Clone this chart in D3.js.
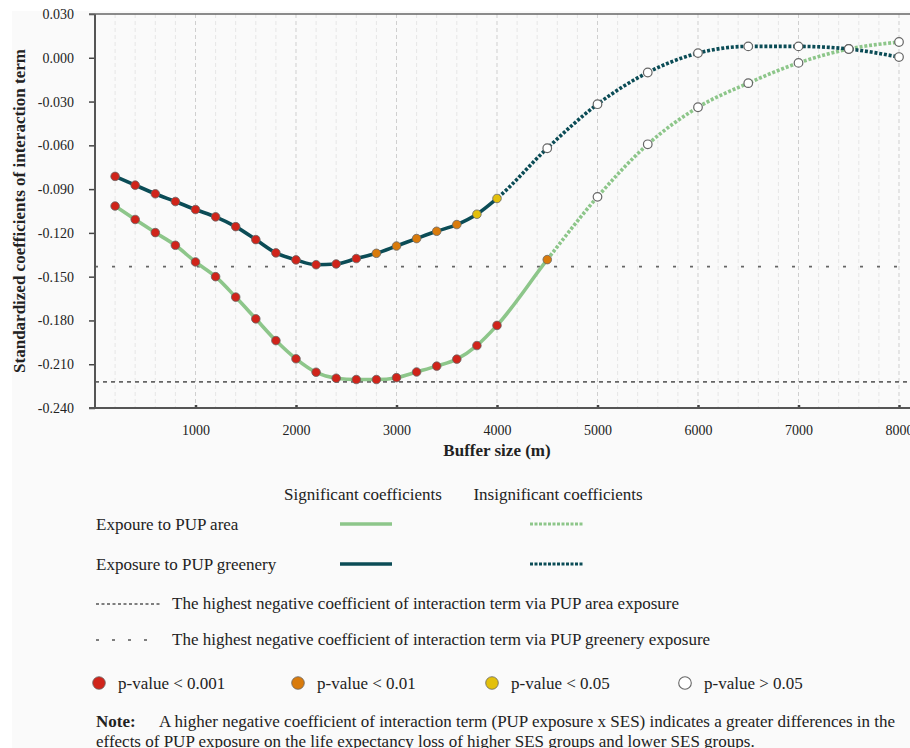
<!DOCTYPE html>
<html><head><meta charset="utf-8">
<script src="https://cdn.jsdelivr.net/npm/d3@7"></script>
<style>
body{margin:0;background:#fff}
svg{display:block}
text{font-family:"Liberation Serif","Times New Roman",serif;fill:#222}
</style>
</head><body>
<svg id="c" width="910" height="748"></svg>
<script>
// ---- data ----
const bufferSizes = [200,400,600,800,1000,1200,1400,1600,1800,2000,2200,2400,2600,2800,3000,3200,3400,3600,3800,4000,4500,5000,5500,6000,6500,7000,7500,8000];
const areaCoef = [-0.1016,-0.1108,-0.1198,-0.1285,-0.1399,-0.1500,-0.1640,-0.1789,-0.1938,-0.2063,-0.2155,-0.2196,-0.2205,-0.2205,-0.2192,-0.2153,-0.2113,-0.2065,-0.1972,-0.1834,-0.1383,-0.0953,-0.0593,-0.0339,-0.0174,-0.0035,0.0060,0.0108];
const greenCoef = [-0.0813,-0.0873,-0.0932,-0.0985,-0.1040,-0.1090,-0.1157,-0.1246,-0.1337,-0.1385,-0.1418,-0.1413,-0.1376,-0.1340,-0.1290,-0.1239,-0.1189,-0.1143,-0.1072,-0.0964,-0.0620,-0.0318,-0.0101,0.0032,0.0078,0.0078,0.0060,0.0005];
const areaP = ["p001","p001","p001","p001","p001","p001","p001","p001","p001","p001","p001","p001","p001","p001","p001","p001","p001","p001","p001","p001","p01","ns","ns","ns","ns","ns","ns","ns"];
const greenP = ["p001","p001","p001","p001","p001","p001","p001","p001","p001","p001","p001","p001","p001","p01","p01","p01","p01","p01","p05","p05","ns","ns","ns","ns","ns","ns","ns","ns"];
const refArea = -0.2221;
const refGreen = -0.1431;
const yTicks = [0.030,0.000,-0.030,-0.060,-0.090,-0.120,-0.150,-0.180,-0.210,-0.240];
const xTicks = [1000,2000,3000,4000,5000,6000,7000,8000];
const pLevels = ["p001","p01","p05","ns"];
const pLabels = ["p-value < 0.001","p-value < 0.01","p-value < 0.05","p-value > 0.05"];

// ---- styles ----
const cArea = "#8dc68a", cGreen = "#0b4c56";
const pFill = {p001:"#d0241a", p01:"#d97b0c", p05:"#e3c00c", ns:"#ffffff"};

const svg = d3.select("#c");
svg.append("rect").attr("x",12).attr("y",11).attr("width",898).attr("height",737).attr("fill","#fafafa");

const L = 95, T = 14, B = 408;
const x = d3.scaleLinear().domain([0,8000]).range([L,899]);
const y = d3.scaleLinear().domain([-0.240,0.030]).range([B,T]);

// grid
const minor = d3.range(200, 8200, 200);
svg.append("g").selectAll("line").data(minor).join("line")
  .attr("x1",d=>x(d)).attr("x2",d=>x(d)).attr("y1",T).attr("y2",B)
  .attr("stroke",d=>d%1000===0?"#cfcfcf":"#e6e6e6")
  .attr("stroke-width",1).attr("stroke-dasharray","4,3");

// reference lines
svg.append("line").attr("x1",L).attr("x2",910).attr("y1",y(refArea)).attr("y2",y(refArea))
  .attr("stroke","#666").attr("stroke-width",1.8).attr("stroke-dasharray","4,4");
svg.append("line").attr("x1",L).attr("x2",910).attr("y1",y(refGreen)).attr("y2",y(refGreen))
  .attr("stroke","#666").attr("stroke-width",1.8).attr("stroke-dasharray","3,14");

// axes
const yAxis = svg.append("g").attr("transform",`translate(${L},0)`)
  .call(d3.axisLeft(y).tickValues(yTicks).tickFormat(d=>d.toFixed(3)).tickSize(6).tickSizeOuter(0).tickPadding(15));
yAxis.select(".domain").remove();
yAxis.selectAll("line").attr("stroke","#444").attr("stroke-width",1.5);
yAxis.selectAll("text").attr("font-size",14).attr("font-family","Liberation Serif").attr("fill","#222");

const xAxis = svg.append("g").attr("transform",`translate(0,${B})`)
  .call(d3.axisBottom(x).tickValues(xTicks).tickFormat(d=>d).tickSize(-3).tickSizeOuter(0).tickPadding(17));
xAxis.select(".domain").remove();
xAxis.selectAll("line").attr("stroke","#444").attr("stroke-width",2.5);
xAxis.selectAll("text").attr("font-size",14).attr("font-family","Liberation Serif").attr("fill","#222");

svg.append("line").attr("x1",L).attr("x2",L).attr("y1",T).attr("y2",B).attr("stroke","#555").attr("stroke-width",2);
svg.append("line").attr("x1",89).attr("x2",910).attr("y1",B).attr("y2",B).attr("stroke","#555").attr("stroke-width",2.2);
svg.append("line").attr("x1",89).attr("x2",910).attr("y1",T).attr("y2",T).attr("stroke","#666").attr("stroke-width",1.6);

// series
const series = [
  {name:"area", vals:areaCoef, p:areaP, color:cArea},
  {name:"green", vals:greenCoef, p:greenP, color:cGreen}
];
const line = d3.line().x(d=>x(d[0])).y(d=>y(d[1])).curve(d3.curveMonotoneX);
const defs = svg.append("defs");
series.forEach(s=>{
  const pts = bufferSizes.map((b,i)=>[b,s.vals[i]]);
  let lastSig = 0;
  s.p.forEach((p,i)=>{ if(p!=="ns") lastSig=i; });
  const xb = x(bufferSizes[lastSig]);
  defs.append("clipPath").attr("id","sol-"+s.name).append("rect")
    .attr("x",0).attr("y",0).attr("width",xb).attr("height",748);
  defs.append("clipPath").attr("id","dot-"+s.name).append("rect")
    .attr("x",xb).attr("y",0).attr("width",910-xb).attr("height",748);
  svg.append("path").attr("d",line(pts)).attr("fill","none").attr("stroke",s.color)
    .attr("stroke-width",3.6).attr("clip-path",`url(#sol-${s.name})`);
  svg.append("path").attr("d",line(pts)).attr("fill","none").attr("stroke",s.color)
    .attr("stroke-width",3.6).attr("stroke-dasharray","3,1.8").attr("clip-path",`url(#dot-${s.name})`);
});
series.forEach(s=>{
  svg.append("g").selectAll("circle").data(bufferSizes.map((b,i)=>({b,v:s.vals[i],p:s.p[i]}))).join("circle")
    .attr("cx",d=>x(d.b)).attr("cy",d=>y(d.v)).attr("r",4.3)
    .attr("fill",d=>pFill[d.p]).attr("stroke","#666").attr("stroke-width",d=>d.p==="ns"?1.2:0.8);
});

// axis titles
svg.append("text").attr("transform","translate(19,211) rotate(-90)").attr("text-anchor","middle")
  .attr("dominant-baseline","central").attr("font-size",17).attr("font-weight","bold")
  .text("Standardized coefficients of interaction term");
svg.append("text").attr("x",497).attr("y",456).attr("text-anchor","middle")
  .attr("font-size",17).attr("font-weight","bold").text("Buffer size (m)");

// legend
const lg = svg.append("g").attr("font-size",17);
lg.append("text").attr("x",363).attr("y",500).attr("text-anchor","middle").attr("font-size",17).text("Significant coefficients");
lg.append("text").attr("x",558).attr("y",500).attr("text-anchor","middle").attr("font-size",17).text("Insignificant coefficients");
const rows = [{label:"Expoure to PUP area", color:cArea, yy:524},{label:"Exposure to PUP greenery", color:cGreen, yy:564}];
rows.forEach(r=>{
  lg.append("text").attr("x",96).attr("y",r.yy+6).attr("font-size",17).text(r.label);
  lg.append("line").attr("x1",340).attr("x2",392).attr("y1",r.yy).attr("y2",r.yy).attr("stroke",r.color).attr("stroke-width",3.6);
  lg.append("line").attr("x1",530).attr("x2",583).attr("y1",r.yy).attr("y2",r.yy).attr("stroke",r.color).attr("stroke-width",3.2).attr("stroke-dasharray","3,1.5");
});
lg.append("line").attr("x1",96).attr("x2",160).attr("y1",604).attr("y2",604).attr("stroke","#555").attr("stroke-width",1.3).attr("stroke-dasharray","3,2.5");
lg.append("text").attr("x",172).attr("y",609).attr("font-size",17).text("The highest negative coefficient of interaction term via PUP area exposure");
lg.append("line").attr("x1",96).attr("x2",152).attr("y1",640).attr("y2",640).attr("stroke","#555").attr("stroke-width",1.3).attr("stroke-dasharray","3,13");
lg.append("text").attr("x",172).attr("y",645).attr("font-size",17).text("The highest negative coefficient of interaction term via PUP greenery exposure");
const pX = [99,298,492,685];
pLevels.forEach((p,i)=>{
  lg.append("circle").attr("cx",pX[i]).attr("cy",683).attr("r",6.3).attr("fill",pFill[p]).attr("stroke","#666").attr("stroke-width",p==="ns"?1.1:0.8);
  lg.append("text").attr("x",pX[i]+19).attr("y",689).attr("font-size",17).text(pLabels[i]);
});
// note
const note = svg.append("text").attr("x",96).attr("y",727).attr("font-size",17);
note.append("tspan").attr("font-weight","bold").text("Note:");
note.append("tspan").attr("x",159).text("A higher negative coefficient of interaction term (PUP exposure x SES) indicates a greater differences in the");
svg.append("text").attr("x",96).attr("y",747).attr("font-size",17).text("effects of PUP exposure on the life expectancy loss of higher SES groups and lower SES groups.");
</script>
</body></html>
